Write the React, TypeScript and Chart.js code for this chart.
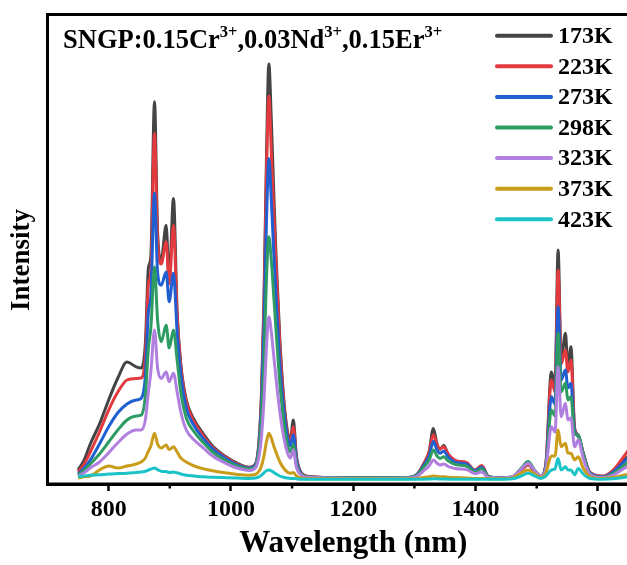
import React, { useEffect, useRef } from 'react';
import { Chart, registerables } from 'chart.js';

Chart.register(...registerables);

const wavelengths = [750, 760, 770, 785, 800, 815, 830, 845, 853, 860, 865, 869, 875, 880, 886, 894, 899, 906, 912, 918, 927, 940, 955, 970, 990, 1010, 1030, 1040, 1046, 1050, 1054, 1058, 1062, 1066, 1070, 1074, 1080, 1086, 1092, 1097, 1102, 1107, 1115, 1130, 1200, 1290, 1305, 1315, 1324, 1331, 1337, 1342, 1348, 1355, 1369, 1385, 1399, 1410, 1421, 1440, 1460, 1475, 1486, 1497, 1507, 1515, 1524, 1530, 1535, 1540, 1547, 1551, 1556, 1562, 1568, 1576, 1587, 1608, 1625, 1642, 1650];

const temperatures = ['173K', '223K', '273K', '298K', '323K', '373K', '423K'];
const seriesColors = ['#444444', '#e23a3f', '#1f5fd2', '#2e9c62', '#b07fe0', '#c99c1a', '#1cc3c6'];

const s173K = [2.5, 5, 9, 14, 20, 25.5, 29.5, 28.3, 28, 34, 53, 56, 94.6, 62, 55, 63.7, 50, 70.4, 42, 29, 20, 15, 11.5, 8.5, 6, 4.2, 3.2, 4, 10, 22, 45, 80, 104, 90, 72, 55, 35, 21, 12.5, 10, 15, 6, 1.8, 0.8, 0.5, 0.6, 1.5, 4, 7, 12.9, 9, 7.7, 8.6, 6.5, 4.6, 4.2, 2.2, 3.5, 0.8, 0.5, 0.6, 2.5, 3.8, 2, 1, 4, 27, 24, 57.5, 30, 36.7, 28, 33.3, 13, 11.2, 6.7, 1.7, 0.8, 2, 4.8, 6];
const s223K = [2, 4, 7, 12, 17.5, 22, 25, 25.4, 25.5, 31, 49, 52, 86.7, 60, 54, 59.6, 49, 63.7, 41, 28.5, 19.5, 14.5, 11, 8.2, 5.8, 4, 3.1, 3.9, 9.5, 21, 43, 76, 96, 82, 67, 53, 33.5, 20, 12, 9.5, 13.3, 5.5, 1.7, 0.8, 0.5, 0.6, 1.5, 4, 7, 11.3, 8.8, 7.8, 8.3, 6.5, 4.8, 4.4, 2.5, 3.6, 0.9, 0.5, 0.6, 2.5, 3.8, 2, 1, 4, 25, 22, 52.5, 29, 32.5, 27, 30, 12.5, 11, 6.8, 2, 1, 2.5, 5.8, 7.5];
const s273K = [1.5, 3, 5, 9, 13.3, 16.8, 19, 20, 20.4, 26, 42, 46, 71.7, 52, 48.7, 52, 44.6, 51.7, 37, 26.5, 18, 13.5, 10.3, 7.8, 5.5, 3.8, 3, 3.7, 8.8, 19, 38, 64, 80.4, 70, 57, 45, 29, 18, 11, 8.5, 11.3, 5, 1.6, 0.7, 0.5, 0.6, 1.4, 3.6, 6, 9.6, 7.5, 6.7, 7.2, 5.8, 4.3, 4, 2.3, 3.2, 0.8, 0.5, 0.7, 2.8, 4.3, 2.2, 1, 3.6, 20.8, 19, 43.3, 25, 27.5, 23, 24.2, 12, 11, 6.6, 1.8, 0.8, 2, 4.5, 5.5];
const s298K = [1.2, 2.5, 4, 6.5, 9.5, 12.5, 15, 16, 16.2, 21, 33, 38, 53.3, 40, 34.6, 38.7, 33, 37.5, 30, 22, 15.5, 12, 9.3, 7, 5, 3.5, 2.8, 3.4, 8, 16, 30, 50, 60.8, 55, 46, 37, 24, 15, 9, 7, 8.8, 4, 1.4, 0.7, 0.5, 0.6, 1.3, 3.2, 5, 7.5, 6, 5.4, 5.8, 4.8, 3.8, 3.5, 2, 2.8, 0.8, 0.5, 0.8, 3, 4.6, 2.4, 1, 3.2, 17.5, 16, 36.7, 22, 24.2, 20, 20.8, 11.5, 11.2, 6.5, 1.6, 0.7, 1.6, 3.6, 4.5];
const s323K = [1, 1.8, 3, 4.5, 6.8, 9.3, 11.5, 12.5, 12.5, 15, 22, 27, 37.5, 28, 25.4, 27, 24.6, 26.7, 22, 17, 12.5, 10, 8, 6, 4.3, 3, 2.4, 3, 6, 11, 20, 33, 40.8, 37, 31, 25, 17, 11, 7, 5.5, 7.5, 3.2, 1.2, 0.6, 0.4, 0.5, 1, 2.3, 3.5, 5, 4.2, 3.75, 4, 3.4, 2.8, 2.6, 1.6, 2, 0.6, 0.5, 0.8, 2.8, 4.2, 2.3, 1, 2.8, 13.3, 12, 28.3, 15.8, 19.2, 15, 15.5, 8.3, 10, 5.5, 1.4, 0.6, 1.2, 2.8, 3.5];
const s373K = [0.5, 0.8, 1, 2.5, 3.5, 3, 3.5, 4, 4.5, 5.5, 7.2, 8.5, 11.7, 9, 8, 8.75, 7.6, 8.3, 7, 5.5, 4.5, 3.5, 2.8, 2.3, 1.8, 1.4, 1.2, 1.4, 2.2, 3.5, 6, 9.5, 11.7, 10.5, 8.5, 6.8, 4.5, 3, 2, 1.7, 1.9, 1, 0.5, 0.3, 0.3, 0.3, 0.4, 0.6, 0.8, 1, 0.9, 0.8, 0.8, 0.7, 0.6, 0.5, 0.4, 0.4, 0.3, 0.3, 0.5, 1.8, 2.5, 1.5, 0.6, 1.8, 6, 6, 12.5, 8.3, 9.2, 6.7, 6.7, 5, 5.8, 3, 0.8, 0.4, 0.6, 1.2, 1.5];
const s423K = [0.8, 1, 1.2, 1.3, 1.5, 1.6, 1.7, 1.9, 2, 2.2, 2.5, 2.7, 3, 2.6, 2.2, 2.1, 1.9, 2, 1.8, 1.5, 1.2, 1, 0.8, 0.7, 0.6, 0.5, 0.4, 0.5, 0.8, 1.2, 1.8, 2.3, 2.5, 2.3, 1.9, 1.5, 1, 0.7, 0.5, 0.4, 0.4, 0.3, 0.2, 0.2, 0.2, 0.2, 0.2, 0.2, 0.25, 0.3, 0.3, 0.25, 0.25, 0.2, 0.2, 0.2, 0.2, 0.2, 0.2, 0.2, 0.3, 1, 1.7, 1, 0.4, 1, 2.5, 2.8, 5.4, 2.5, 3.3, 2.5, 2.5, 1.3, 2.9, 1.5, 0.4, 0.2, 0.3, 0.6, 0.8];

const xMajorTicks = [800, 1000, 1200, 1400, 1600];
const xMinorTicks = [900, 1100, 1300, 1500, 1700];

const FONT = '"Liberation Serif", "Times New Roman", serif';

const titleParts: [string, boolean][] = [
  ['SNGP:0.15Cr', false], ['3+', true], [',0.03Nd', false], ['3+', true], [',0.15Er', false], ['3+', true],
];

const decorPlugin = {
  id: 'decor',
  afterDraw(chart: any) {
    const { ctx, chartArea } = chart;
    const xs = chart.scales.x;
    ctx.save();
    // frame
    ctx.strokeStyle = '#000';
    ctx.lineWidth = 3;
    ctx.strokeRect(chartArea.left, chartArea.top, chartArea.right - chartArea.left, chartArea.bottom - chartArea.top);
    // minor ticks
    ctx.lineWidth = 2.5;
    xMinorTicks.forEach((v) => {
      const px = xs.getPixelForValue(v);
      ctx.beginPath();
      ctx.moveTo(px, chartArea.bottom);
      ctx.lineTo(px, chartArea.bottom + 4.5);
      ctx.stroke();
    });
    // y axis title
    ctx.save();
    ctx.translate(22, 260);
    ctx.rotate(-Math.PI / 2);
    ctx.fillStyle = '#000';
    ctx.font = `bold 27px ${FONT}`;
    ctx.textAlign = 'center';
    ctx.textBaseline = 'middle';
    ctx.fillText('Intensity', 0, 0);
    ctx.restore();
    // sample title
    let x = 63;
    const base = 48;
    ctx.fillStyle = '#000';
    ctx.textBaseline = 'alphabetic';
    ctx.textAlign = 'left';
    titleParts.forEach(([t, sup]) => {
      ctx.font = sup ? `bold 16.5px ${FONT}` : `bold 26.5px ${FONT}`;
      ctx.fillText(t, x, sup ? base - 11 : base);
      x += ctx.measureText(t).width;
    });
    // legend
    const ds = chart.data.datasets;
    ds.forEach((d: any, i: number) => {
      const y = 35.7 + i * 30.6;
      ctx.strokeStyle = d.borderColor;
      ctx.lineWidth = 4;
      ctx.lineCap = 'round';
      ctx.beginPath();
      ctx.moveTo(497, y);
      ctx.lineTo(551, y);
      ctx.stroke();
      ctx.fillStyle = '#000';
      ctx.font = `bold 24px ${FONT}`;
      ctx.textBaseline = 'middle';
      ctx.fillText(d.label, 558, y + 1);
    });
    ctx.restore();
  },
};

export default function App() {
  const ref = useRef<HTMLCanvasElement>(null);
  useEffect(() => {
    document.body.style.margin = '0';
    document.body.style.overflow = 'hidden';
    const series = [s173K, s223K, s273K, s298K, s323K, s373K, s423K];
    const chart = new Chart(ref.current!, {
      type: 'line',
      data: {
        datasets: series.map((s, i) => ({
          label: temperatures[i],
          data: wavelengths.map((w, j) => ({ x: w, y: s[j] })),
          borderColor: seriesColors[i],
          backgroundColor: seriesColors[i],
          borderWidth: 3,
          pointRadius: 0,
          fill: false,
          cubicInterpolationMode: 'monotone' as const,
          order: series.length - i,
        })),
      },
      options: {
        responsive: false,
        animation: false,
        devicePixelRatio: 1,
        layout: { padding: { top: 14.5, right: 41, left: 0, bottom: 0 } },
        plugins: { legend: { display: false }, tooltip: { enabled: false }, title: { display: false } },
        scales: {
          x: {
            type: 'linear',
            min: 700,
            max: 1700,
            afterBuildTicks: (scale: any) => {
              scale.ticks = xMajorTicks.map((v) => ({ value: v }));
            },
            afterFit: (scale: any) => {
              scale.height = 81;
            },
            grid: { drawOnChartArea: false, drawTicks: true, tickLength: 7, tickWidth: 2.5, tickColor: '#000' },
            border: { display: true, color: '#000', width: 3 },
            ticks: {
              autoSkip: false,
              maxRotation: 0,
              padding: 4,
              color: '#000',
              font: { family: FONT, size: 24, weight: 'bold' },
              callback: (v: any) => String(v),
            },
            title: {
              display: true,
              text: 'Wavelength (nm)',
              color: '#000',
              font: { family: FONT, size: 31, weight: 'bold' },
              padding: { top: 0, bottom: 2 },
            },
          },
          y: {
            type: 'linear',
            min: -1,
            max: 116.4,
            afterFit: (scale: any) => {
              scale.width = 47.5;
            },
            grid: { display: false },
            border: { display: true, color: '#000', width: 3 },
            ticks: { display: false },
            title: { display: false },
          },
        },
      },
      plugins: [decorPlugin],
    });
    return () => chart.destroy();
  }, []);
  return (
    <div style={{ width: 627, height: 565, overflow: 'hidden' }}>
      <canvas ref={ref} width={700} height={565} style={{ display: 'block', width: 700, height: 565 }} />
    </div>
  );
}
